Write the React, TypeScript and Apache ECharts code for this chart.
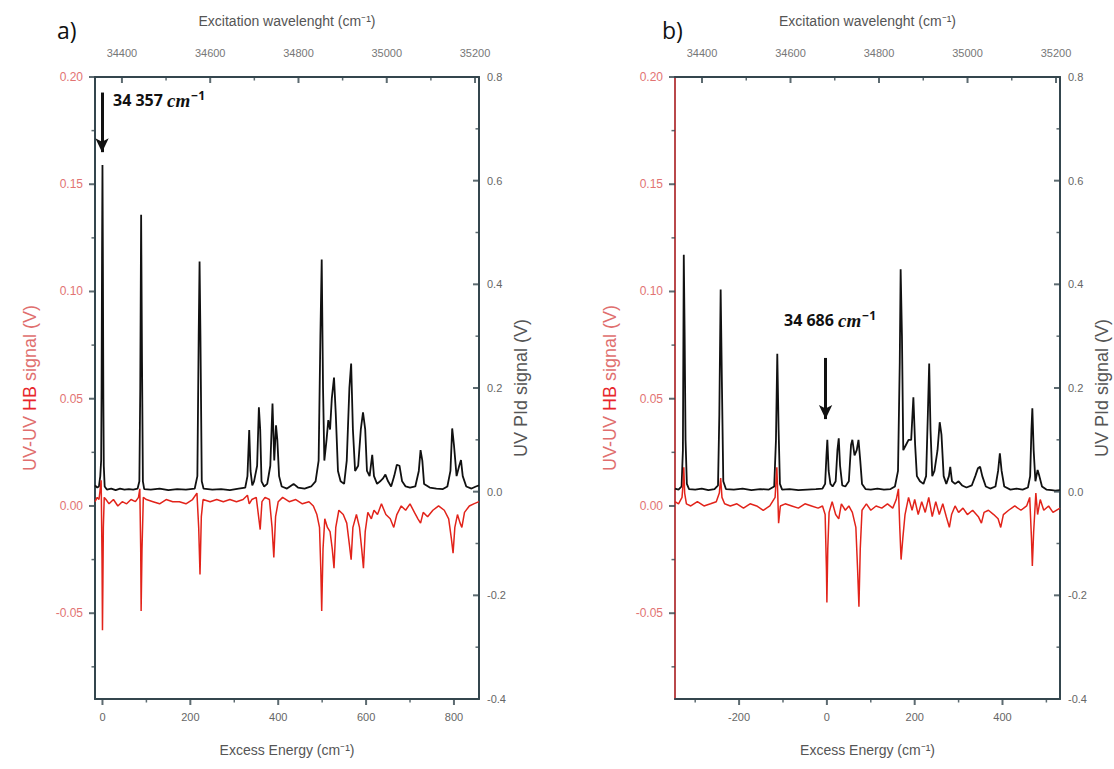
import React, { useEffect, useRef } from "react";
import * as echarts from "echarts";

// ---------- axis ranges & ticks ----------
const aExcessRange = [-17, 857];
const bExcessRange = [-346, 531];
const waveRange = [34339, 35209];
const aBottomTicks = [0, 200, 400, 600, 800];
const aBottomMinor = [100, 300, 500, 700];
const bBottomTicks = [-200, 0, 200, 400];
const bBottomMinor = [-300, -100, 100, 300, 500];
const topTicks = [34400, 34600, 34800, 35000, 35200];
const topMinor = [34500, 34700, 34900, 35100];
const hbRange = [-0.09, 0.2];
const hbTicks = [-0.05, 0, 0.05, 0.1, 0.15, 0.2];
const hbMinor = [-0.075, -0.025, 0.025, 0.075, 0.125, 0.175];
const pidRange = [-0.4, 0.8];
const pidTicks = [-0.4, -0.2, 0, 0.2, 0.4, 0.6, 0.8];
const pidMinor = [-0.3, -0.1, 0.1, 0.3, 0.5, 0.7];

// ---------- panel a: UV PId (black, right axis) ----------
const aPidSignal = [
  [-17, 0.012], [-12, 0.008], [-8, 0.01], [-5, 0.03], [-3, 0.06], [-2, 0.2], [-1, 0.45], [0, 0.63], [1, 0.44], [2, 0.18], [3, 0.05], [5, 0.01],
  [10, 0.004], [20, 0.006], [30, 0.003], [40, 0.006], [50, 0.004], [60, 0.005], [70, 0.004], [80, 0.006], [84, 0.02], [86, 0.2], [88, 0.534], [90, 0.25], [92, 0.02], [95, 0.005],
  [110, 0.004], [130, 0.006], [150, 0.003], [170, 0.005], [190, 0.004], [210, 0.006], [216, 0.03], [219, 0.3], [221, 0.444], [223, 0.3], [226, 0.02], [230, 0.006],
  [250, 0.004], [270, 0.005], [290, 0.003], [310, 0.006], [325, 0.008], [330, 0.03], [334, 0.119], [337, 0.04], [341, 0.012], [345, 0.02], [352, 0.05], [356, 0.163], [359, 0.12], [362, 0.02],
  [368, 0.01], [375, 0.015], [382, 0.05], [387, 0.17], [391, 0.06], [395, 0.128], [398, 0.1], [402, 0.03], [408, 0.01], [420, 0.006], [435, 0.015], [445, 0.008], [460, 0.006], [475, 0.01],
  [485, 0.02], [492, 0.06], [496, 0.3], [499, 0.448], [502, 0.2], [505, 0.06], [510, 0.1], [514, 0.138], [518, 0.12], [522, 0.18], [527, 0.22], [531, 0.15], [536, 0.04], [542, 0.02],
  [550, 0.015], [556, 0.06], [562, 0.2], [566, 0.247], [570, 0.12], [575, 0.04], [582, 0.05], [588, 0.12], [593, 0.153], [598, 0.12], [602, 0.04], [608, 0.03], [614, 0.071], [618, 0.03],
  [625, 0.015], [632, 0.02], [638, 0.025], [644, 0.033], [650, 0.02], [657, 0.01], [664, 0.03], [670, 0.052], [676, 0.05], [682, 0.02], [690, 0.01], [700, 0.008], [712, 0.01],
  [720, 0.04], [724, 0.08], [728, 0.06], [732, 0.015], [745, 0.008], [760, 0.006], [775, 0.005], [785, 0.01], [792, 0.04], [796, 0.122], [800, 0.09], [806, 0.03], [812, 0.05],
  [816, 0.061], [820, 0.03], [828, 0.01], [840, 0.006], [850, 0.01], [857, 0.012],
];

// ---------- panel a: UV-UV HB (red, left axis) ----------
const aHbSignal = [
  [-17, 0.002], [-12, 0.004], [-8, 0.003], [-5, 0.008], [-3, 0.012], [-1, -0.025], [0, -0.058], [1, -0.035], [2, -0.01], [4, 0.004], [8, 0.003], [15, 0.001], [25, 0.003],
  [35, 0.0], [45, 0.002], [55, 0.001], [65, 0.003], [75, 0.002], [82, 0.004], [85, 0.008], [87, -0.02], [88, -0.049], [90, -0.02], [93, 0.004], [100, 0.003], [115, 0.002],
  [130, 0.001], [145, 0.003], [160, 0.002], [175, 0.002], [190, 0.001], [205, 0.003], [215, 0.006], [219, -0.01], [222, -0.032], [225, -0.005], [229, 0.003], [245, 0.002],
  [260, 0.003], [275, 0.002], [290, 0.003], [305, 0.002], [320, 0.003], [330, 0.005], [334, 0.001], [340, 0.003], [350, 0.004], [356, -0.006], [359, -0.011], [363, 0.002],
  [370, 0.004], [380, 0.003], [386, -0.01], [390, -0.024], [394, -0.005], [400, 0.002], [410, 0.004], [425, 0.002], [440, 0.003], [455, 0.001], [470, 0.002], [480, 0.0],
  [488, -0.004], [494, -0.01], [497, -0.03], [499, -0.049], [502, -0.02], [506, -0.006], [512, -0.01], [518, -0.012], [523, -0.02], [527, -0.029], [531, -0.01], [538, -0.002],
  [548, -0.004], [556, -0.008], [562, -0.018], [566, -0.025], [570, -0.01], [578, -0.004], [585, -0.01], [590, -0.02], [594, -0.029], [598, -0.012], [604, -0.003], [612, -0.006],
  [618, -0.002], [626, -0.004], [635, 0.001], [645, -0.004], [655, -0.006], [663, -0.01], [670, -0.004], [680, 0.0], [690, -0.002], [700, 0.001], [710, -0.003], [718, -0.006],
  [724, -0.008], [730, -0.003], [740, -0.005], [752, -0.002], [765, 0.0], [778, -0.002], [788, -0.006], [794, -0.015], [798, -0.022], [802, -0.01], [808, -0.004], [814, -0.008],
  [818, -0.01], [824, -0.003], [835, 0.0], [845, 0.001], [857, 0.002],
];

// ---------- panel b: UV PId (black, right axis) ----------
const bPidSignal = [
  [-346, 0.006], [-338, 0.004], [-331, 0.01], [-328, 0.08], [-326, 0.457], [-324, 0.3], [-322, 0.1], [-319, 0.015], [-314, 0.005], [-300, 0.004], [-285, 0.006], [-270, 0.003],
  [-256, 0.005], [-248, 0.012], [-245, 0.15], [-242, 0.39], [-239, 0.2], [-236, 0.02], [-230, 0.005], [-212, 0.004], [-192, 0.006], [-172, 0.003], [-152, 0.005], [-132, 0.004],
  [-120, 0.01], [-116, 0.1], [-113, 0.266], [-110, 0.12], [-107, 0.015], [-102, 0.004], [-85, 0.005], [-65, 0.003], [-45, 0.004], [-25, 0.005], [-10, 0.006], [-4, 0.015],
  [-1, 0.07], [1, 0.1], [4, 0.04], [8, 0.015], [13, 0.01], [20, 0.02], [24, 0.08], [27, 0.103], [30, 0.05], [35, 0.012], [42, 0.01], [50, 0.02], [55, 0.09], [58, 0.1],
  [63, 0.07], [68, 0.08], [72, 0.1], [76, 0.06], [80, 0.015], [88, 0.005], [100, 0.004], [115, 0.006], [130, 0.004], [145, 0.005], [155, 0.01], [162, 0.04], [166, 0.25],
  [168, 0.429], [171, 0.3], [174, 0.08], [180, 0.09], [186, 0.1], [192, 0.1], [197, 0.182], [201, 0.09], [205, 0.03], [212, 0.02], [220, 0.015], [226, 0.03], [230, 0.15],
  [233, 0.247], [236, 0.12], [240, 0.03], [245, 0.04], [252, 0.08], [257, 0.134], [261, 0.11], [266, 0.03], [272, 0.015], [278, 0.03], [281, 0.048], [285, 0.02], [292, 0.015],
  [300, 0.02], [308, 0.012], [318, 0.008], [330, 0.012], [338, 0.03], [344, 0.045], [349, 0.048], [354, 0.03], [362, 0.01], [372, 0.006], [384, 0.01], [390, 0.04], [394, 0.074],
  [398, 0.04], [404, 0.01], [418, 0.004], [432, 0.006], [446, 0.004], [458, 0.008], [463, 0.03], [466, 0.12], [468, 0.161], [471, 0.08], [475, 0.02], [480, 0.042], [484, 0.03],
  [490, 0.01], [500, 0.004], [512, 0.003], [520, 0.002], [531, 0.003],
];

// ---------- panel b: UV-UV HB (red, left axis) ----------
const bHbSignal = [
  [-346, 0.002], [-338, 0.001], [-330, 0.004], [-327, 0.012], [-326, 0.018], [-324, 0.006], [-320, 0.001], [-310, 0.0], [-295, 0.002], [-280, 0.0], [-265, 0.001], [-252, 0.002],
  [-245, 0.006], [-242, 0.013], [-239, 0.004], [-233, 0.001], [-220, 0.0], [-205, 0.001], [-190, -0.001], [-175, 0.001], [-160, 0.0], [-145, -0.002], [-130, 0.0], [-118, 0.004],
  [-114, 0.018], [-112, 0.006], [-110, -0.008], [-106, 0.0], [-95, 0.001], [-80, 0.0], [-65, -0.001], [-50, 0.001], [-35, 0.0], [-20, -0.001], [-10, 0.0], [-4, -0.004],
  [-1, -0.03], [0, -0.045], [2, -0.02], [5, -0.003], [12, 0.002], [20, -0.004], [27, -0.006], [33, 0.001], [42, -0.002], [50, 0.0], [58, -0.003], [66, -0.01], [70, -0.03],
  [73, -0.047], [76, -0.02], [80, -0.002], [90, 0.001], [100, -0.002], [112, 0.0], [125, -0.001], [138, 0.001], [150, -0.001], [158, 0.003], [163, 0.008], [166, -0.01],
  [169, -0.025], [173, -0.015], [178, -0.004], [186, 0.004], [194, -0.002], [200, 0.003], [208, -0.004], [216, 0.002], [224, -0.003], [232, 0.004], [240, -0.005], [248, 0.002],
  [256, -0.004], [264, 0.001], [272, -0.005], [279, -0.01], [284, -0.004], [292, 0.0], [300, -0.003], [310, -0.001], [320, -0.004], [332, -0.002], [345, -0.005], [352, -0.008],
  [358, -0.003], [368, -0.002], [380, -0.004], [390, -0.006], [396, -0.01], [402, -0.004], [414, -0.002], [428, 0.0], [442, -0.002], [455, 0.0], [462, 0.004], [466, -0.015],
  [468, -0.028], [471, -0.012], [476, 0.006], [480, -0.004], [486, 0.003], [494, -0.002], [505, 0.0], [515, -0.003], [531, -0.001],
];

// ---------- annotations ----------
const aArrow = [[-1, 0.77], [-1, 0.655]];
const bArrow = [[-3, 0.258], [-3, 0.14]];

const FONT = "Liberation Sans";
const AXIS_COLOR = "#34464e";
const RED = "#e2231a";

function xAxesFor(g: number, range: number[], ticks: number[]) {
  const common = { type: "value", gridIndex: g, splitLine: { show: false }, axisTick: { show: false } };
  return [
    {
      ...common,
      position: "bottom",
      min: range[0],
      max: range[1],
      axisLine: { show: true, onZero: false, lineStyle: { color: AXIS_COLOR, width: 2 } },
      axisLabel: { show: true, customValues: ticks, margin: 12, color: "#666", fontSize: 11, fontFamily: FONT, formatter: (v: number) => String(v) },
      name: "Excess Energy (cm⁻¹)",
      nameLocation: "middle",
      nameGap: 44,
      nameTextStyle: { color: "#555", fontSize: 14, fontFamily: FONT },
    },
    {
      ...common,
      position: "top",
      min: waveRange[0],
      max: waveRange[1],
      axisLine: { show: true, onZero: false, lineStyle: { color: AXIS_COLOR, width: 2 } },
      axisLabel: { show: true, customValues: topTicks, margin: 19, color: "#777", fontSize: 11, fontFamily: FONT, formatter: (v: number) => String(v) },
      name: "Excitation wavelenght (cm⁻¹)",
      nameLocation: "middle",
      nameGap: 49,
      nameTextStyle: { color: "#555", fontSize: 14, fontFamily: FONT },
    },
  ];
}

function yAxesFor(g: number, leftLineColor: string) {
  const common = { type: "value", gridIndex: g, splitLine: { show: false }, axisTick: { show: false } };
  return [
    {
      ...common,
      position: "left",
      min: hbRange[0],
      max: hbRange[1],
      axisLine: { show: true, onZero: false, lineStyle: { color: leftLineColor, width: 2 } },
      axisLabel: { show: true, customValues: hbTicks, margin: 12, color: "#e27373", fontSize: 12, fontFamily: FONT, formatter: (v: number) => v.toFixed(2) },
      name: "{r|UV-UV }{h|HB}{r| signal (V)}",
      nameLocation: "middle",
      nameRotate: 90,
      nameGap: 56,
      nameTextStyle: {
        fontFamily: FONT,
        rich: {
          r: { color: "#e06e6e", fontSize: 18, fontFamily: FONT },
          h: { color: "#e8262c", fontSize: 18, fontFamily: FONT },
        },
      },
    },
    {
      ...common,
      position: "right",
      min: pidRange[0],
      max: pidRange[1],
      axisLine: { show: true, onZero: false, lineStyle: { color: AXIS_COLOR, width: 2 } },
      axisLabel: { show: true, customValues: pidTicks, margin: 8, color: "#666", fontSize: 11, fontFamily: FONT, formatter: (v: number) => v.toFixed(1) },
      name: "UV PId signal (V)",
      nameLocation: "middle",
      nameRotate: 90,
      nameGap: 33,
      nameTextStyle: { color: "#555", fontSize: 18, fontFamily: FONT },
    },
  ];
}

// tick marks drawn as small rects through the axes' own scales
function tickSeries(xIdx: number, yIdx: number, data: number[][], size: number[], offset: number[]) {
  return {
    type: "scatter",
    xAxisIndex: xIdx,
    yAxisIndex: yIdx,
    data,
    symbol: "rect",
    symbolSize: size,
    symbolOffset: offset,
    itemStyle: { color: AXIS_COLOR },
    clip: false,
    silent: true,
    z: 6,
  };
}

function ticksFor(g: number, xRange: number[], bottomTicks: number[], bottomMinor: number[]) {
  const xb = g * 2, xt = g * 2 + 1, yl = g * 2, yr = g * 2 + 1;
  return [
    tickSeries(xb, yl, bottomTicks.map((v) => [v, hbRange[0]]), [2, 6], [0, 3]),
    tickSeries(xb, yl, bottomMinor.map((v) => [v, hbRange[0]]), [1.5, 3.5], [0, 1.75]),
    tickSeries(xt, yl, topTicks.map((v) => [v, hbRange[1]]), [2, 6], [0, 3]),
    tickSeries(xt, yl, topMinor.map((v) => [v, hbRange[1]]), [1.5, 3.5], [0, 1.75]),
    tickSeries(xb, yl, hbTicks.map((v) => [xRange[0], v]), [6, 2], [-3, 0]),
    tickSeries(xb, yl, hbMinor.map((v) => [xRange[0], v]), [3.5, 1.5], [-1.75, 0]),
    tickSeries(xb, yr, pidTicks.map((v) => [xRange[1], v]), [6, 2], [-3, 0]),
    tickSeries(xb, yr, pidMinor.map((v) => [xRange[1], v]), [3.5, 1.5], [-1.75, 0]),
  ];
}

function arrowMark(pts: number[][]) {
  return {
    silent: true,
    symbol: ["none", "arrow"],
    symbolSize: [10, 14],
    label: { show: false },
    lineStyle: { color: "#111", width: 3, type: "solid" },
    data: [[{ coord: pts[0] }, { coord: pts[1] }]],
  };
}

function annotation(left: number, top: number, num: string) {
  return {
    type: "text",
    left,
    top,
    style: {
      text: `{n|${num} }{c|cm}{s|−1}`,
      rich: {
        n: { fontFamily: "Open Sans", fontWeight: "bold", fontSize: 16, fill: "#111" },
        c: { fontFamily: "Liberation Serif", fontStyle: "italic", fontWeight: "bold", fontSize: 19, fill: "#111" },
        s: { fontFamily: "Open Sans", fontWeight: "bold", fontSize: 12, fill: "#111", padding: [0, 0, 10, 1] },
      },
    },
  };
}

const option: any = {
  animation: false,
  backgroundColor: "#fff",
  grid: [
    { left: 95, top: 77, width: 384, height: 622, outerBoundsMode: "none" },
    { left: 675, top: 77, width: 385, height: 622, outerBoundsMode: "none" },
  ],
  xAxis: [...xAxesFor(0, aExcessRange, aBottomTicks), ...xAxesFor(1, bExcessRange, bBottomTicks)],
  yAxis: [...yAxesFor(0, AXIS_COLOR), ...yAxesFor(1, "#b9484b")],
  series: [
    {
      type: "line", xAxisIndex: 0, yAxisIndex: 1, data: aPidSignal, showSymbol: false, symbol: "none",
      lineStyle: { color: "#111", width: 1.8 }, z: 2, markLine: arrowMark(aArrow),
    },
    {
      type: "line", xAxisIndex: 0, yAxisIndex: 0, data: aHbSignal, showSymbol: false, symbol: "none",
      lineStyle: { color: RED, width: 1.5 }, z: 3,
    },
    {
      type: "line", xAxisIndex: 2, yAxisIndex: 3, data: bPidSignal, showSymbol: false, symbol: "none",
      lineStyle: { color: "#111", width: 1.8 }, z: 2, markLine: arrowMark(bArrow),
    },
    {
      type: "line", xAxisIndex: 2, yAxisIndex: 2, data: bHbSignal, showSymbol: false, symbol: "none",
      lineStyle: { color: RED, width: 1.5 }, z: 3,
    },
    ...ticksFor(0, aExcessRange, aBottomTicks, aBottomMinor),
    ...ticksFor(1, bExcessRange, bBottomTicks, bBottomMinor),
  ],
  graphic: [
    { type: "text", left: 57, top: 18, style: { text: "a)", fontFamily: "Open Sans", fontSize: 23, fill: "#111" } },
    { type: "text", left: 662, top: 18, style: { text: "b)", fontFamily: "Open Sans", fontSize: 23, fill: "#111" } },
    annotation(113, 89, "34 357"),
    annotation(784, 309, "34 686"),
  ],
};

export default function App() {
  const ref = useRef<HTMLDivElement>(null);
  useEffect(() => {
    document.body.style.margin = "0";
    const chart = echarts.init(ref.current as HTMLDivElement, null, { renderer: "svg" });
    chart.setOption(option);
    return () => chart.dispose();
  }, []);
  return (
    <div
      ref={ref}
      style={{ position: "absolute", left: 0, top: 0, width: 1114, height: 769, background: "#fff" }}
    />
  );
}
